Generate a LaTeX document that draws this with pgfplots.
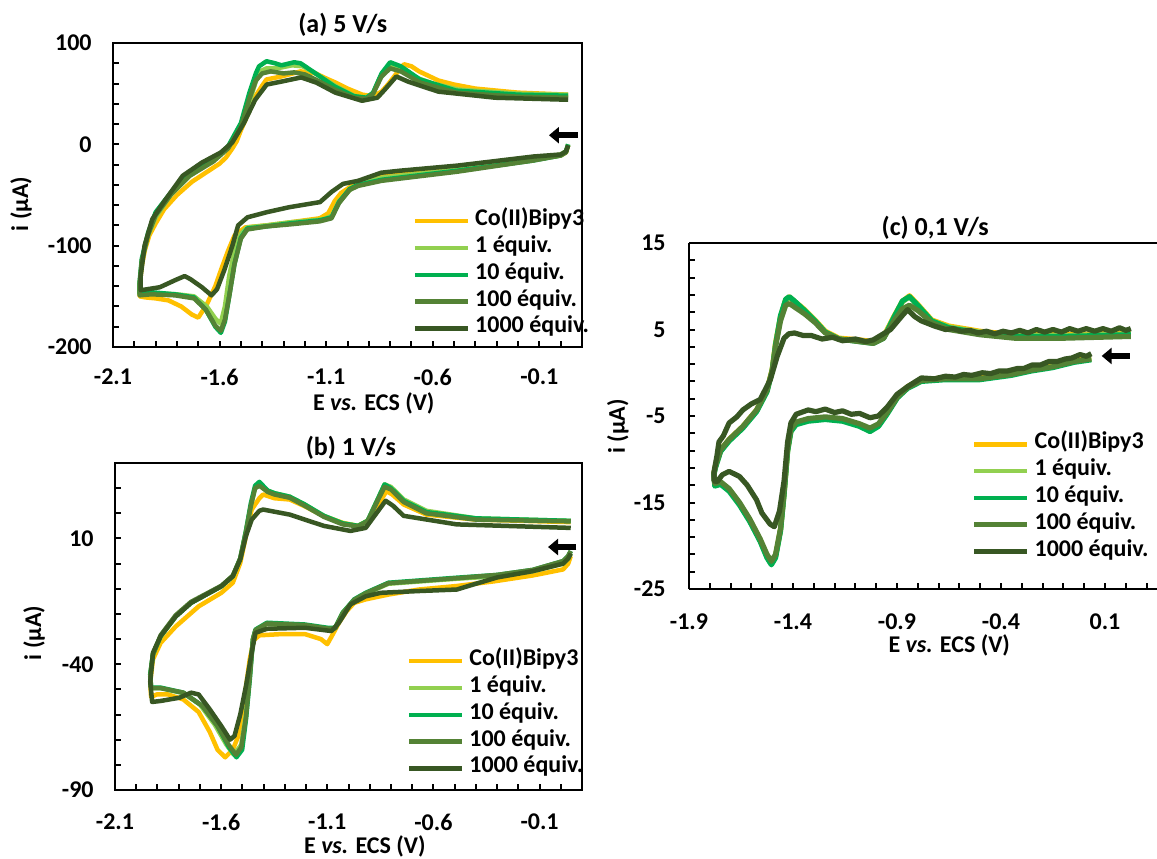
\documentclass[border=0pt]{standalone}
\usepackage{pgfplots}
\pgfplotsset{compat=1.18}
\usepackage{fontspec}
\setmainfont{Carlito}
\usetikzlibrary{arrows.meta}
\definecolor{cYel}{HTML}{FFC000}
\definecolor{cLg}{HTML}{92D050}
\definecolor{cG}{HTML}{00B050}
\definecolor{cMg}{HTML}{548235}
\definecolor{cDg}{HTML}{385723}
\newcommand{\fs}{\fontsize{12}{14}\selectfont\bfseries}
\newcommand{\ft}{\fontsize{13}{15}\selectfont\bfseries}
\pgfplotsset{
  cv/.style={
    scale only axis, anchor=south west, clip=false,
    axis line style={line width=1pt},
    every tick/.style={black, line width=1pt},
    tick align=inside, tick pos=left,
    major tick length=3pt, minor tick length=3pt,
    tick label style={font=\fs},
    label style={font=\fs},
    xticklabel style={anchor=center, yshift=-15pt},
    yticklabel style={anchor=east, inner sep=0pt, xshift=-10.5pt},
    legend style={draw=none, fill=none, inner sep=0pt, outer sep=0pt, anchor=north west,
      font=\fs, row sep=0pt, column sep=2.5pt,
      nodes={inner sep=0pt, text height=9pt, text depth=4.4pt}},
    legend cell align=left,
    legend image code/.code={\draw[##1] (0pt,0pt) -- (26.5pt,0pt);},
    every axis plot/.append style={line width=2.25pt, line join=round, mark=none},
  }
}
\begin{document}
\begin{tikzpicture}
% ---------------- (a) 5 V/s ----------------
\begin{axis}[cv, at={(56.5pt,255.5pt)}, width=234.5pt, height=152pt,
  xmin=-2.1, xmax=0.1, ymin=-200, ymax=100,
  xtick={-2.1,-1.6,-1.1,-0.6,-0.1}, xticklabels={-2.1,-1.6,-1.1,-0.6,-0.1},
  minor xtick={-2.0,-1.9,-1.8,-1.7,-1.5,-1.4,-1.3,-1.2,-1.0,-0.9,-0.8,-0.7,-0.5,-0.4,-0.3,-0.2,0.0},
  ytick={-200,-100,0,100}, yticklabels={-200,-100,0,100},
  minor ytick={-180,-160,-140,-120,-80,-60,-40,-20,20,40,60,80},
  xlabel={E \textit{vs.} ECS (V)}, xlabel style={at={(axis description cs:0.556,-0.184)}, anchor=center},
  ylabel={i (µA)}, ylabel style={at={(axis description cs:-0.196,0.47)}, anchor=center},
  legend style={at={(axis description cs:0.639,0.458)}},
]
\addplot[cYel] coordinates {(0.035,-1) (0.025,-8) (0.0,-11) (-0.13,-15) (-0.3,-20) (-0.485,-25) (-0.65,-28) (-0.84,-31) (-0.91,-35) (-0.98,-41) (-1.03,-48) (-1.06,-56) (-1.09,-68) (-1.13,-73) (-1.27,-77) (-1.38,-80) (-1.48,-82) (-1.53,-90) (-1.56,-105) (-1.59,-122) (-1.62,-140) (-1.66,-158) (-1.70,-171) (-1.73,-168) (-1.78,-160) (-1.84,-154) (-1.90,-152) (-1.95,-151) (-1.975,-150)
(-1.975,-140) (-1.965,-120) (-1.95,-104) (-1.93,-90) (-1.9,-78) (-1.86,-64) (-1.8,-50) (-1.73,-37) (-1.665,-28) (-1.6,-19) (-1.57,-13) (-1.54,-4) (-1.52,3) (-1.5,14) (-1.477,25) (-1.45,38) (-1.43,48) (-1.40,58) (-1.38,64) (-1.31,67) (-1.22,72) (-1.15,70) (-1.1,65) (-1.057,61) (-1.0,55) (-0.93,49) (-0.88,47.5) (-0.84,52) (-0.81,59) (-0.77,70) (-0.735,79) (-0.7,77) (-0.664,72) (-0.574,63) (-0.5,59) (-0.4,55) (-0.2,51) (0.035,49)};
\addlegendentry{Co(II)Bipy3}
\addplot[cLg] coordinates {(0.035,0) (0.025,-7) (0.0,-10) (-0.13,-15) (-0.485,-25) (-0.84,-33) (-0.93,-38) (-0.98,-43) (-1.04,-56) (-1.07,-70) (-1.11,-74) (-1.27,-77) (-1.38,-80) (-1.47,-82) (-1.50,-88) (-1.53,-105) (-1.555,-130) (-1.575,-160) (-1.595,-177) (-1.62,-172) (-1.66,-160) (-1.72,-150) (-1.8,-148) (-1.9,-147) (-1.975,-148)
(-1.975,-138) (-1.965,-116) (-1.94,-92) (-1.9,-72) (-1.83,-50) (-1.74,-31) (-1.64,-17) (-1.57,-5) (-1.52,10) (-1.49,22) (-1.46,42) (-1.43,62) (-1.41,72) (-1.38,75) (-1.33,75) (-1.26,78) (-1.21,77) (-1.15,70) (-1.06,58) (-0.97,48) (-0.92,46) (-0.88,50) (-0.85,65) (-0.81,77) (-0.78,78) (-0.75,75) (-0.68,66) (-0.6,60) (-0.48,54) (-0.2,50) (0.035,49)};
\addlegendentry{1 équiv.}
\addplot[cG] coordinates {(0.035,0) (0.025,-7) (0.0,-11) (-0.13,-16) (-0.485,-26) (-0.84,-35) (-0.95,-40) (-0.99,-44) (-1.04,-57) (-1.075,-72) (-1.13,-75) (-1.27,-78) (-1.38,-81) (-1.47,-83) (-1.5,-92) (-1.53,-118) (-1.555,-150) (-1.575,-175) (-1.594,-186) (-1.62,-180) (-1.665,-163) (-1.72,-151) (-1.81,-148) (-1.92,-146) (-1.975,-147)
(-1.975,-136) (-1.965,-113) (-1.935,-87) (-1.9,-67) (-1.83,-48) (-1.74,-28) (-1.63,-15) (-1.56,-2) (-1.5,21) (-1.46,51) (-1.43,70) (-1.415,77) (-1.38,82) (-1.34,80) (-1.31,78) (-1.25,81) (-1.22,80) (-1.15,70) (-1.06,57) (-0.97,47.5) (-0.91,46) (-0.88,51) (-0.84,70) (-0.80,81) (-0.75,77) (-0.66,64) (-0.49,53) (-0.2,49) (0.035,48)};
\addlegendentry{10 équiv.}
\addplot[cMg] coordinates {(0.035,-1) (0.025,-8) (0.0,-11) (-0.13,-16) (-0.485,-27) (-0.84,-36) (-0.95,-41) (-0.99,-45) (-1.04,-58) (-1.075,-73) (-1.13,-76) (-1.27,-79) (-1.38,-81) (-1.47,-84) (-1.5,-93) (-1.53,-118) (-1.555,-150) (-1.575,-173) (-1.594,-184) (-1.62,-179) (-1.665,-163) (-1.72,-152) (-1.81,-149) (-1.92,-148) (-1.975,-149)
(-1.975,-138) (-1.965,-115) (-1.935,-89) (-1.9,-70) (-1.83,-50) (-1.74,-31) (-1.63,-17) (-1.56,-4) (-1.5,17) (-1.46,45) (-1.43,63) (-1.40,70) (-1.36,72) (-1.30,70) (-1.25,71) (-1.2,69) (-1.15,64) (-1.06,54) (-0.97,46) (-0.91,45) (-0.88,50) (-0.84,67) (-0.80,75) (-0.75,72) (-0.66,61) (-0.49,51) (-0.2,47) (0.035,46)};
\addlegendentry{100 équiv.}
\addplot[cDg] coordinates {(0.035,-1) (0.025,-7) (0.0,-10) (-0.127,-12) (-0.485,-21) (-0.753,-26) (-0.842,-28) (-0.95,-36) (-1.021,-39) (-1.075,-47) (-1.129,-57) (-1.272,-62) (-1.379,-67) (-1.469,-72) (-1.513,-80) (-1.54,-100) (-1.576,-123) (-1.612,-143) (-1.638,-149) (-1.683,-141) (-1.737,-133) (-1.764,-130) (-1.808,-134) (-1.88,-141) (-1.97,-144)
(-1.97,-130) (-1.952,-100) (-1.916,-74) (-1.862,-57) (-1.773,-31) (-1.683,-18) (-1.594,-8) (-1.54,2) (-1.486,21) (-1.433,44) (-1.379,59) (-1.308,62) (-1.218,66) (-1.147,61) (-1.057,51) (-0.932,43) (-0.86,46) (-0.825,54) (-0.771,67) (-0.717,62) (-0.574,52) (-0.306,46) (0.035,44)};
\addlegendentry{1000 équiv.}
\draw[-{Triangle[length=5pt,width=8pt]}, line width=3pt] (axis cs:0.08,9) -- (axis cs:-0.055,9);
\node[font=\ft, anchor=center, inner sep=0pt] at (axis description cs:0.49,1.06) {(a) 5 V/s};
\end{axis}
% ---------------- (b) 1 V/s ----------------
\begin{axis}[cv, at={(57.5pt,34pt)}, width=233.5pt, height=163.5pt,
  xmin=-2.1, xmax=0.1, ymin=-90, ymax=40,
  xtick={-2.1,-1.6,-1.1,-0.6,-0.1}, xticklabels={-2.1,-1.6,-1.1,-0.6,-0.1},
  minor xtick={-2.0,-1.9,-1.8,-1.7,-1.5,-1.4,-1.3,-1.2,-1.0,-0.9,-0.8,-0.7,-0.5,-0.4,-0.3,-0.2,0.0},
  ytick={-90,-40,10}, yticklabels={-90,-40,10},
  minor ytick={-80,-70,-60,-50,-30,-20,-10,0,20,30,40},
  xticklabel style={yshift=-1pt},
  xlabel={E \textit{vs.} ECS (V)}, xlabel style={at={(axis description cs:0.535,-0.173)}, anchor=center},
  ylabel={i (µA)}, ylabel style={at={(axis description cs:-0.173,0.48)}, anchor=center},
  legend style={at={(axis description cs:0.625,0.435)}},
]
\addplot[cYel] coordinates {(0.047,3) (0.035,0) (0.011,-2.3) (-0.132,-4.7) (-0.311,-7) (-0.49,-8.9) (-0.669,-10.3) (-0.812,-12.3) (-0.919,-14.2) (-0.973,-15.6) (-1.009,-18.9) (-1.045,-23.5) (-1.08,-29) (-1.10,-32) (-1.13,-30) (-1.206,-28) (-1.313,-28) (-1.42,-28.5) (-1.447,-30.5) (-1.465,-38) (-1.483,-49) (-1.501,-59) (-1.519,-68.5) (-1.545,-74) (-1.581,-77) (-1.617,-74) (-1.653,-67) (-1.706,-59) (-1.778,-54) (-1.85,-52) (-1.903,-52) (-1.93,-53)
(-1.934,-47) (-1.921,-38) (-1.885,-31.5) (-1.814,-25) (-1.706,-17) (-1.599,-11.6) (-1.545,-7.6) (-1.51,0.3) (-1.483,11) (-1.456,21.5) (-1.42,26) (-1.402,27.5) (-1.349,26) (-1.277,25.5) (-1.206,22.8) (-1.116,18.9) (-1.027,16.2) (-0.955,15) (-0.901,17.5) (-0.857,24) (-0.821,28.8) (-0.794,27.5) (-0.74,23.5) (-0.633,19.5) (-0.4,17.5) (0.047,16.5)};
\addlegendentry{Co(II)Bipy3}
\addplot[cLg] coordinates {(0.047,4) (0.035,2) (0.011,0) (-0.132,-3) (-0.3,-5) (-0.49,-6) (-0.812,-8) (-0.919,-12) (-0.973,-14.5) (-1.027,-19.5) (-1.063,-25.5) (-1.1,-26) (-1.206,-25) (-1.384,-24) (-1.438,-26.5) (-1.45,-30) (-1.465,-44) (-1.483,-60) (-1.505,-72) (-1.54,-76) (-1.575,-72) (-1.63,-64) (-1.7,-56) (-1.778,-51.5) (-1.885,-49.5) (-1.93,-49.5)
(-1.934,-44) (-1.921,-36) (-1.885,-29) (-1.814,-21) (-1.742,-15.6) (-1.599,-9) (-1.545,-5) (-1.51,2) (-1.483,13) (-1.46,23) (-1.44,30) (-1.42,31.5) (-1.38,29) (-1.349,28) (-1.277,26.6) (-1.206,23.5) (-1.116,19) (-1.027,16) (-0.955,15) (-0.91,17) (-0.86,26) (-0.83,31.5) (-0.80,30.5) (-0.74,25.5) (-0.633,21) (-0.4,18) (0.047,17)};
\addlegendentry{1 équiv.}
\addplot[cG] coordinates {(0.047,5) (0.035,3) (0.011,1) (-0.132,-2.5) (-0.3,-4.5) (-0.49,-5.6) (-0.812,-7.6) (-0.919,-11.6) (-0.973,-14.2) (-1.027,-19.5) (-1.063,-25.5) (-1.1,-25.5) (-1.206,-24.2) (-1.384,-23.5) (-1.438,-26.2) (-1.45,-30) (-1.465,-46) (-1.483,-62) (-1.501,-74) (-1.528,-77) (-1.563,-73) (-1.617,-64.6) (-1.688,-56.6) (-1.778,-51.3) (-1.885,-49.3) (-1.93,-49.3)
(-1.934,-44) (-1.921,-36) (-1.885,-28.8) (-1.814,-21) (-1.742,-15.6) (-1.599,-9) (-1.545,-5) (-1.51,2) (-1.483,13) (-1.46,24) (-1.44,31) (-1.42,32.5) (-1.38,29) (-1.349,28) (-1.277,26.6) (-1.206,23.5) (-1.116,19) (-1.027,16) (-0.955,15) (-0.91,17) (-0.86,26) (-0.83,31.5) (-0.80,30) (-0.74,25) (-0.633,20.5) (-0.4,18) (0.047,17)};
\addlegendentry{10 équiv.}
\addplot[cMg] coordinates {(0.047,5) (0.035,3) (0.011,1) (-0.132,-2.5) (-0.3,-4.5) (-0.49,-5.8) (-0.812,-7.8) (-0.919,-11.8) (-0.973,-14.4) (-1.027,-19.7) (-1.063,-25.8) (-1.1,-25.8) (-1.206,-24.4) (-1.384,-23.8) (-1.438,-26.4) (-1.45,-30) (-1.465,-45) (-1.483,-61) (-1.505,-73) (-1.53,-76) (-1.565,-72) (-1.617,-64.6) (-1.688,-56.6) (-1.778,-51.3) (-1.885,-49.5) (-1.93,-49.5)
(-1.934,-45) (-1.921,-36) (-1.885,-28.5) (-1.814,-20.5) (-1.742,-15.2) (-1.599,-8.8) (-1.545,-4.8) (-1.51,2) (-1.483,12.5) (-1.46,23) (-1.44,30) (-1.42,31) (-1.38,28.5) (-1.349,27.5) (-1.277,26.2) (-1.206,23) (-1.116,18.6) (-1.027,15.6) (-0.955,14.8) (-0.91,16.8) (-0.86,25.5) (-0.83,30.5) (-0.80,29.5) (-0.74,24.5) (-0.633,20) (-0.4,17.5) (0.047,16.8)};
\addlegendentry{100 équiv.}
\addplot[cDg] coordinates {(0.047,4) (0.035,2) (0.011,0) (-0.132,-3) (-0.3,-5.5) (-0.4,-8) (-0.49,-10.3) (-0.669,-10.9) (-0.848,-11.6) (-0.919,-13) (-0.991,-16.2) (-1.045,-23.5) (-1.08,-26.8) (-1.206,-25.5) (-1.384,-25.9) (-1.438,-27.5) (-1.456,-35.4) (-1.483,-48.7) (-1.51,-60) (-1.537,-68.5) (-1.558,-70) (-1.599,-64.6) (-1.653,-58) (-1.706,-52) (-1.742,-51.3) (-1.796,-53.3) (-1.885,-54.6) (-1.925,-55)
(-1.934,-47) (-1.921,-35.4) (-1.885,-28.8) (-1.814,-21) (-1.742,-15.6) (-1.599,-9) (-1.545,-5) (-1.51,1.7) (-1.483,11) (-1.456,17.5) (-1.42,21) (-1.402,21.5) (-1.277,19.5) (-1.116,15) (-0.991,13) (-0.919,14.2) (-0.86,21) (-0.825,25) (-0.79,23) (-0.74,19) (-0.49,15.6) (0.047,14.2)};
\addlegendentry{1000 équiv.}
\draw[-{Triangle[length=5pt,width=8pt]}, line width=3pt] (axis cs:0.073,6.6) -- (axis cs:-0.06,6.6);
\node[font=\ft, anchor=center, inner sep=0pt] at (axis description cs:0.505,1.045) {(b) 1 V/s};
\end{axis}
% ---------------- (c) 0,1 V/s ----------------
\begin{axis}[cv, at={(344.5pt,134.5pt)}, width=234pt, height=173pt,
  axis x line*=box, axis y line*=left, tick pos=left,
  xmin=-1.9, xmax=0.35, ymin=-25, ymax=15,
  xtick={-1.9,-1.4,-0.9,-0.4,0.1}, xticklabels={-1.9,-1.4,-0.9,-0.4,0.1},
  minor xtick={-1.8,-1.7,-1.6,-1.5,-1.3,-1.2,-1.1,-1.0,-0.8,-0.7,-0.6,-0.5,-0.3,-0.2,-0.1,0.0,0.2,0.3},
  ytick={-25,-15,-5,5,15}, yticklabels={-25,-15,-5,5,15},
  minor ytick={-23,-21,-19,-17,-13,-11,-9,-7,-3,-1,1,3,7,9,11,13},
  xticklabel style={yshift=-1.5pt},
  yticklabel style={xshift=-1pt},
  every axis plot/.append style={line width=2.6pt},
  xlabel={E \textit{vs.} ECS (V)}, xlabel style={at={(axis description cs:0.556,-0.162)}, anchor=center},
  ylabel={i (µA)}, ylabel style={at={(axis description cs:-0.152,0.47)}, anchor=center},
  legend style={at={(axis description cs:0.605,0.457)}},
  legend image code/.code={\draw[#1, line width=2.25pt] (0pt,0pt) -- (26.5pt,0pt);},
]
\addplot[cYel] coordinates {(0.034,1.7) (-0.05,1.4) (-0.15,0.8) (-0.255,0.4) (-0.35,-0.1) (-0.502,-0.6) (-0.667,-0.6) (-0.783,-0.8) (-0.849,-1.6) (-0.898,-2.7) (-0.948,-4.6) (-0.989,-6.0) (-1.03,-6.6) (-1.08,-6.0) (-1.162,-5.4) (-1.245,-5.2) (-1.327,-5.4) (-1.385,-5.8) (-1.41,-6.6) (-1.426,-8.9) (-1.443,-13.9) (-1.46,-18.1) (-1.484,-21.2) (-1.504,-22.0) (-1.525,-21.2) (-1.558,-19.3) (-1.608,-17.0) (-1.657,-15.1) (-1.707,-13.5) (-1.748,-12.7) (-1.776,-12.9) (-1.78,-11.6)
(-1.773,-10.8) (-1.748,-8.9) (-1.707,-7.7) (-1.641,-6.2) (-1.575,-4.3) (-1.525,-2.0) (-1.5,0.4) (-1.484,3.4) (-1.46,6.5) (-1.435,8.45) (-1.418,8.76) (-1.393,8.26) (-1.344,7.3) (-1.294,6.1) (-1.245,4.8) (-1.179,4.0) (-1.08,3.8) (-1.014,3.6) (-0.964,4.2) (-0.915,6.5) (-0.874,8.26) (-0.84,8.9) (-0.8,7.9) (-0.733,6.1) (-0.651,5.4) (-0.502,4.8) (-0.337,4.4) (-0.09,4.4) (0.224,4.6)};
\addlegendentry{Co(II)Bipy3}
\addplot[cLg] coordinates {(0.034,1.6) (-0.05,1.3) (-0.15,0.7) (-0.255,0.3) (-0.35,-0.2) (-0.502,-0.7) (-0.667,-0.7) (-0.783,-0.9) (-0.849,-1.7) (-0.898,-2.8) (-0.948,-4.7) (-0.989,-6.1) (-1.03,-6.7) (-1.08,-6.1) (-1.162,-5.5) (-1.245,-5.3) (-1.327,-5.5) (-1.385,-5.9) (-1.41,-6.7) (-1.426,-9.0) (-1.443,-14.0) (-1.46,-18.2) (-1.484,-21.3) (-1.504,-22.1) (-1.525,-21.3) (-1.558,-19.4) (-1.608,-17.1) (-1.657,-15.2) (-1.707,-13.6) (-1.748,-12.8) (-1.776,-13.0) (-1.78,-11.7)
(-1.773,-10.9) (-1.748,-9.0) (-1.707,-7.8) (-1.641,-6.3) (-1.575,-4.4) (-1.525,-2.1) (-1.5,0.3) (-1.484,3.3) (-1.46,6.4) (-1.435,8.4) (-1.418,8.7) (-1.393,8.2) (-1.344,7.2) (-1.294,6.0) (-1.245,4.7) (-1.179,3.9) (-1.08,3.7) (-1.014,3.5) (-0.964,4.1) (-0.915,6.4) (-0.874,8.2) (-0.84,8.8) (-0.8,7.8) (-0.733,6.0) (-0.651,5.3) (-0.502,4.7) (-0.337,4.3) (-0.09,4.3) (0.224,4.5)};
\addlegendentry{1 équiv.}
\addplot[cG] coordinates {(0.034,1.5) (-0.05,1.2) (-0.15,0.6) (-0.255,0.2) (-0.35,-0.3) (-0.502,-0.8) (-0.667,-0.8) (-0.783,-1.0) (-0.849,-1.8) (-0.898,-2.9) (-0.948,-4.8) (-0.989,-6.2) (-1.03,-6.8) (-1.08,-6.2) (-1.162,-5.6) (-1.245,-5.4) (-1.327,-5.6) (-1.385,-6.0) (-1.41,-6.8) (-1.426,-9.1) (-1.443,-14.1) (-1.46,-18.3) (-1.484,-21.4) (-1.504,-22.2) (-1.525,-21.4) (-1.558,-19.5) (-1.608,-17.2) (-1.657,-15.3) (-1.707,-13.7) (-1.748,-12.9) (-1.776,-13.1) (-1.78,-11.8)
(-1.773,-11.0) (-1.748,-9.1) (-1.707,-7.9) (-1.641,-6.4) (-1.575,-4.5) (-1.525,-2.2) (-1.5,0.2) (-1.484,3.2) (-1.46,6.6) (-1.435,8.5) (-1.418,8.8) (-1.393,8.3) (-1.344,7.2) (-1.294,6.0) (-1.245,4.7) (-1.179,3.9) (-1.08,3.6) (-1.014,3.4) (-0.964,4.0) (-0.915,6.4) (-0.874,8.3) (-0.84,8.8) (-0.8,7.8) (-0.733,6.0) (-0.651,5.2) (-0.502,4.6) (-0.337,4.2) (-0.09,4.2) (0.224,4.4)};
\addlegendentry{10 équiv.}
\addplot[cMg] coordinates {(0.034,1.6) (-0.05,1.3) (-0.15,0.7) (-0.255,0.3) (-0.35,-0.2) (-0.502,-0.7) (-0.667,-0.7) (-0.783,-0.9) (-0.849,-1.7) (-0.898,-2.8) (-0.948,-4.6) (-0.989,-5.9) (-1.03,-6.4) (-1.08,-5.9) (-1.162,-5.3) (-1.245,-5.1) (-1.327,-5.3) (-1.385,-5.7) (-1.41,-6.5) (-1.426,-8.8) (-1.443,-13.8) (-1.46,-18.0) (-1.484,-21.0) (-1.504,-21.8) (-1.525,-21.0) (-1.558,-19.2) (-1.608,-16.9) (-1.657,-15.0) (-1.707,-13.4) (-1.748,-12.6) (-1.776,-12.8) (-1.78,-11.6)
(-1.773,-10.8) (-1.748,-8.9) (-1.707,-7.7) (-1.641,-6.2) (-1.575,-4.3) (-1.525,-2.0) (-1.5,0.3) (-1.484,3.0) (-1.46,6.0) (-1.435,7.8) (-1.418,8.0) (-1.393,7.6) (-1.344,6.8) (-1.294,5.8) (-1.245,4.6) (-1.179,3.9) (-1.08,3.6) (-1.014,3.4) (-0.964,4.0) (-0.915,6.0) (-0.874,7.4) (-0.84,7.8) (-0.8,7.2) (-0.733,5.8) (-0.651,5.0) (-0.502,4.4) (-0.337,4.0) (-0.09,4.0) (0.224,4.2)};
\addlegendentry{100 équiv.}
\addplot[cDg] coordinates {(0.034,2.2) (0.01,1.9) (-0.02,2.1) (-0.06,1.7) (-0.09,1.6) (-0.13,1.3) (-0.17,1.3) (-0.21,0.9) (-0.25,0.9) (-0.29,0.5) (-0.32,0.5) (-0.37,0.2) (-0.41,0.2) (-0.45,-0.1) (-0.49,0.0) (-0.54,-0.3) (-0.58,-0.2) (-0.62,-0.5) (-0.667,-0.4) (-0.72,-0.7) (-0.783,-0.6) (-0.849,-1.6) (-0.9,-2.5) (-0.948,-4.0) (-0.99,-5.0) (-1.03,-5.2) (-1.08,-4.7) (-1.12,-4.8) (-1.162,-4.4) (-1.2,-4.6) (-1.245,-4.2) (-1.29,-4.5) (-1.327,-4.3) (-1.385,-4.8) (-1.41,-5.8) (-1.426,-8.0) (-1.443,-12.5) (-1.465,-16.0) (-1.49,-17.8) (-1.51,-17.5) (-1.55,-16.2) (-1.575,-14.7) (-1.62,-13.0) (-1.657,-12.0) (-1.707,-11.4) (-1.74,-11.8) (-1.765,-12.6) (-1.78,-12.5)
(-1.78,-11.5) (-1.765,-9.5) (-1.756,-8.0) (-1.735,-7.3) (-1.707,-5.8) (-1.67,-5.1) (-1.641,-4.3) (-1.6,-3.6) (-1.558,-3.1) (-1.509,-0.8) (-1.476,1.9) (-1.443,4.0) (-1.42,4.5) (-1.393,4.6) (-1.35,4.3) (-1.311,4.3) (-1.26,3.9) (-1.21,4.1) (-1.162,3.7) (-1.1,3.9) (-1.05,3.6) (-1.014,3.8) (-0.931,5.0) (-0.875,6.6) (-0.849,7.3) (-0.815,6.5) (-0.783,6.0) (-0.72,5.4) (-0.667,5.0) (-0.63,5.1) (-0.59,4.8) (-0.55,4.9) (-0.51,4.6) (-0.47,4.8) (-0.43,4.5) (-0.39,4.8) (-0.35,4.6) (-0.31,4.9) (-0.27,4.6) (-0.23,5.0) (-0.19,4.7) (-0.15,5.0) (-0.11,4.7) (-0.07,5.1) (-0.03,4.8) (0.01,5.1) (0.05,4.8) (0.09,5.1) (0.13,4.8) (0.17,5.2) (0.2,4.9) (0.224,5.1)};
\addlegendentry{1000 équiv.}
\draw[-{Triangle[length=5pt,width=8pt]}, line width=3pt] (axis cs:0.219,1.94) -- (axis cs:0.084,1.94);
\node[font=\ft, anchor=center, inner sep=0pt] at (axis description cs:0.526,1.045) {(c) 0,1 V/s};
\end{axis}
\pgfresetboundingbox
\useasboundingbox (0,0) rectangle (578.5pt,429pt);
\end{tikzpicture}
\end{document}
